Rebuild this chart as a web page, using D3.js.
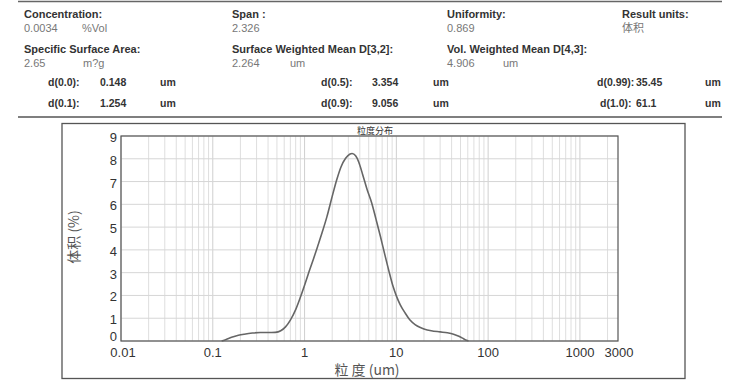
<!DOCTYPE html>
<html><head><meta charset="utf-8">
<script src="https://cdn.jsdelivr.net/npm/d3@7"></script>
<style>
body{margin:0;background:#fff;}
svg{display:block;font-family:"Liberation Sans",Arial,sans-serif;}
</style></head>
<body><svg id="c" width="751" height="381"></svg>
<script>
// ---- data ----
const sizes   = [0.125,0.14,0.16,0.19,0.22,0.27,0.33,0.40,0.48,0.55,0.62,0.70,0.80,0.90,1.0,1.12,1.25,1.4,1.55,1.75,2.0,2.25,2.5,2.8,3.1,3.3,3.6,3.9,4.3,4.8,5.4,6.0,6.7,7.5,8.3,9.2,10,11,12.5,14,16,18,20,24,30,36,42,48,54,58,61.1];
const volumes = [0,0.07,0.16,0.25,0.30,0.35,0.37,0.37,0.38,0.45,0.62,0.92,1.38,1.92,2.45,3.05,3.6,4.2,4.75,5.45,6.35,7.1,7.65,8.02,8.2,8.23,8.13,7.85,7.3,6.65,6.05,5.35,4.6,3.78,3.07,2.4,1.98,1.6,1.22,0.93,0.72,0.6,0.53,0.45,0.4,0.36,0.3,0.21,0.1,0.03,0];
const xTickLabels = [0.01,0.1,1,10,100,1000,3000];
const yTickLabels = [0,1,2,3,4,5,6,7,8,9];
const headerLabels = ["Concentration:","Span :","Uniformity:","Result units:","Specific Surface Area:","Surface Weighted Mean D[3,2]:","Vol. Weighted Mean D[4,3]:"];
const headerValues = ["0.0034","2.326","0.869","体积","2.65","2.264","4.906"];
const headerUnits  = ["%Vol","","","","m?g","um","um"];
const dLabels = ["d(0.0):","d(0.1):","d(0.5):","d(0.9):","d(0.99):","d(1.0):"];
const dValues = ["0.148","1.254","3.354","9.056","35.45","61.1"];
const chartTitle = "粒度分布";
const xTitle = "粒 度 (um)";
const yTitle = "体积 (%)";

// ---- layout ----
const svg = d3.select("#c");
const L=121, R=618, T=136, B=341;
const x = d3.scaleLog().domain([0.01,2600]).range([L,R]);
const y = d3.scaleLinear().domain([0,9]).range([B,T]);

// header
svg.append("line").attr("x1",18).attr("x2",722).attr("y1",1.5).attr("y2",1.5).attr("stroke","#666").attr("stroke-width",1.5);
svg.append("line").attr("x1",18).attr("x2",722).attr("y1",117).attr("y2",117).attr("stroke","#555").attr("stroke-width",1.5);
const hx=[24,232,447,622,24,232,447], hy=[18,18,18,18,53,53,53];
const ux=[82,0,0,0,83,290,503];
headerLabels.forEach((t,i)=>{
  svg.append("text").attr("x",hx[i]).attr("y",hy[i]).attr("font-size",11).attr("font-weight","bold").attr("fill","#333").text(t);
  svg.append("text").attr("x",hx[i]).attr("y",hy[i]+13.5).attr("font-size",11).attr("fill","#777")
     .attr("font-family", i===3?"'Noto Sans CJK SC',sans-serif":null).text(headerValues[i]);
  if(headerUnits[i]) svg.append("text").attr("x",ux[i]).attr("y",hy[i]+13.5).attr("font-size",11).attr("fill","#777").text(headerUnits[i]);
});
const dx=[48,48,321,321,597,600], dvx=[100,100,372,372,636,636], dux=[160,160,433,433,705,705], dy=[86,107,86,107,86,107];
dLabels.forEach((t,i)=>{
  const g=svg.append("g").attr("font-size",10.5).attr("font-weight","bold").attr("fill","#333");
  g.append("text").attr("x",dx[i]).attr("y",dy[i]).text(t);
  g.append("text").attr("x",dvx[i]).attr("y",dy[i]).text(dValues[i]);
  g.append("text").attr("x",dux[i]).attr("y",dy[i]).text("um");
});

// outer frame
svg.append("rect").attr("x",62).attr("y",123.5).attr("width",623).attr("height",255).attr("fill","none").attr("stroke","#555").attr("stroke-width",1.3);

// grid
const minor=[];
for(let e=-2;e<=3;e++) for(let m=1;m<=9;m++){const v=m*Math.pow(10,e); if(v<=2600) minor.push(v);}
svg.append("g").selectAll("line").data(minor).join("line")
  .attr("x1",d=>x(d)).attr("x2",d=>x(d)).attr("y1",T).attr("y2",B)
  .attr("stroke",d=>Math.abs(Math.log10(d)%1)<1e-9?"#cfcfcf":"#dedede").attr("stroke-width",1);
svg.append("g").selectAll("line").data(yTickLabels).join("line")
  .attr("x1",L).attr("x2",R).attr("y1",d=>y(d)).attr("y2",d=>y(d))
  .attr("stroke","#d6d6d6").attr("stroke-width",1);

// plot border
svg.append("rect").attr("x",L).attr("y",T).attr("width",R-L).attr("height",B-T).attr("fill","none").attr("stroke","#555").attr("stroke-width",1.2);

// tick labels
svg.append("g").selectAll("text").data(yTickLabels).join("text")
  .attr("x",117).attr("y",d=>y(d)+(d===0?0:6)).attr("text-anchor","end").attr("font-size",13).attr("fill","#333")
  .text(d=>d);
svg.append("g").selectAll("text").data(xTickLabels).join("text")
  .attr("x",d=>Math.min(x(d),619)+(d===0.01?2:0)).attr("y",357).attr("text-anchor","middle").attr("font-size",13).attr("fill","#333")
  .text(d=>d);

// titles
svg.append("text").attr("x",375).attr("y",134).attr("text-anchor","middle").attr("font-size",9).attr("fill","#333")
  .attr("font-family","'Noto Sans CJK SC',sans-serif").text(chartTitle);
svg.append("text").attr("x",367).attr("y",375).attr("text-anchor","middle").attr("font-size",14).attr("fill","#555")
  .attr("font-family","'Noto Sans CJK SC',sans-serif").text(xTitle);
svg.append("text").attr("transform","translate(79,237) rotate(-90)").attr("text-anchor","middle").attr("font-size",14).attr("fill","#555")
  .attr("font-family","'Noto Sans CJK SC',sans-serif").text(yTitle);

// curve
const line = d3.line().x((d,i)=>x(sizes[i])).y(d=>y(d)).curve(d3.curveMonotoneX);
svg.append("path").datum(volumes).attr("d",line).attr("fill","none").attr("stroke","#666").attr("stroke-width",1.6);
</script></body></html>
